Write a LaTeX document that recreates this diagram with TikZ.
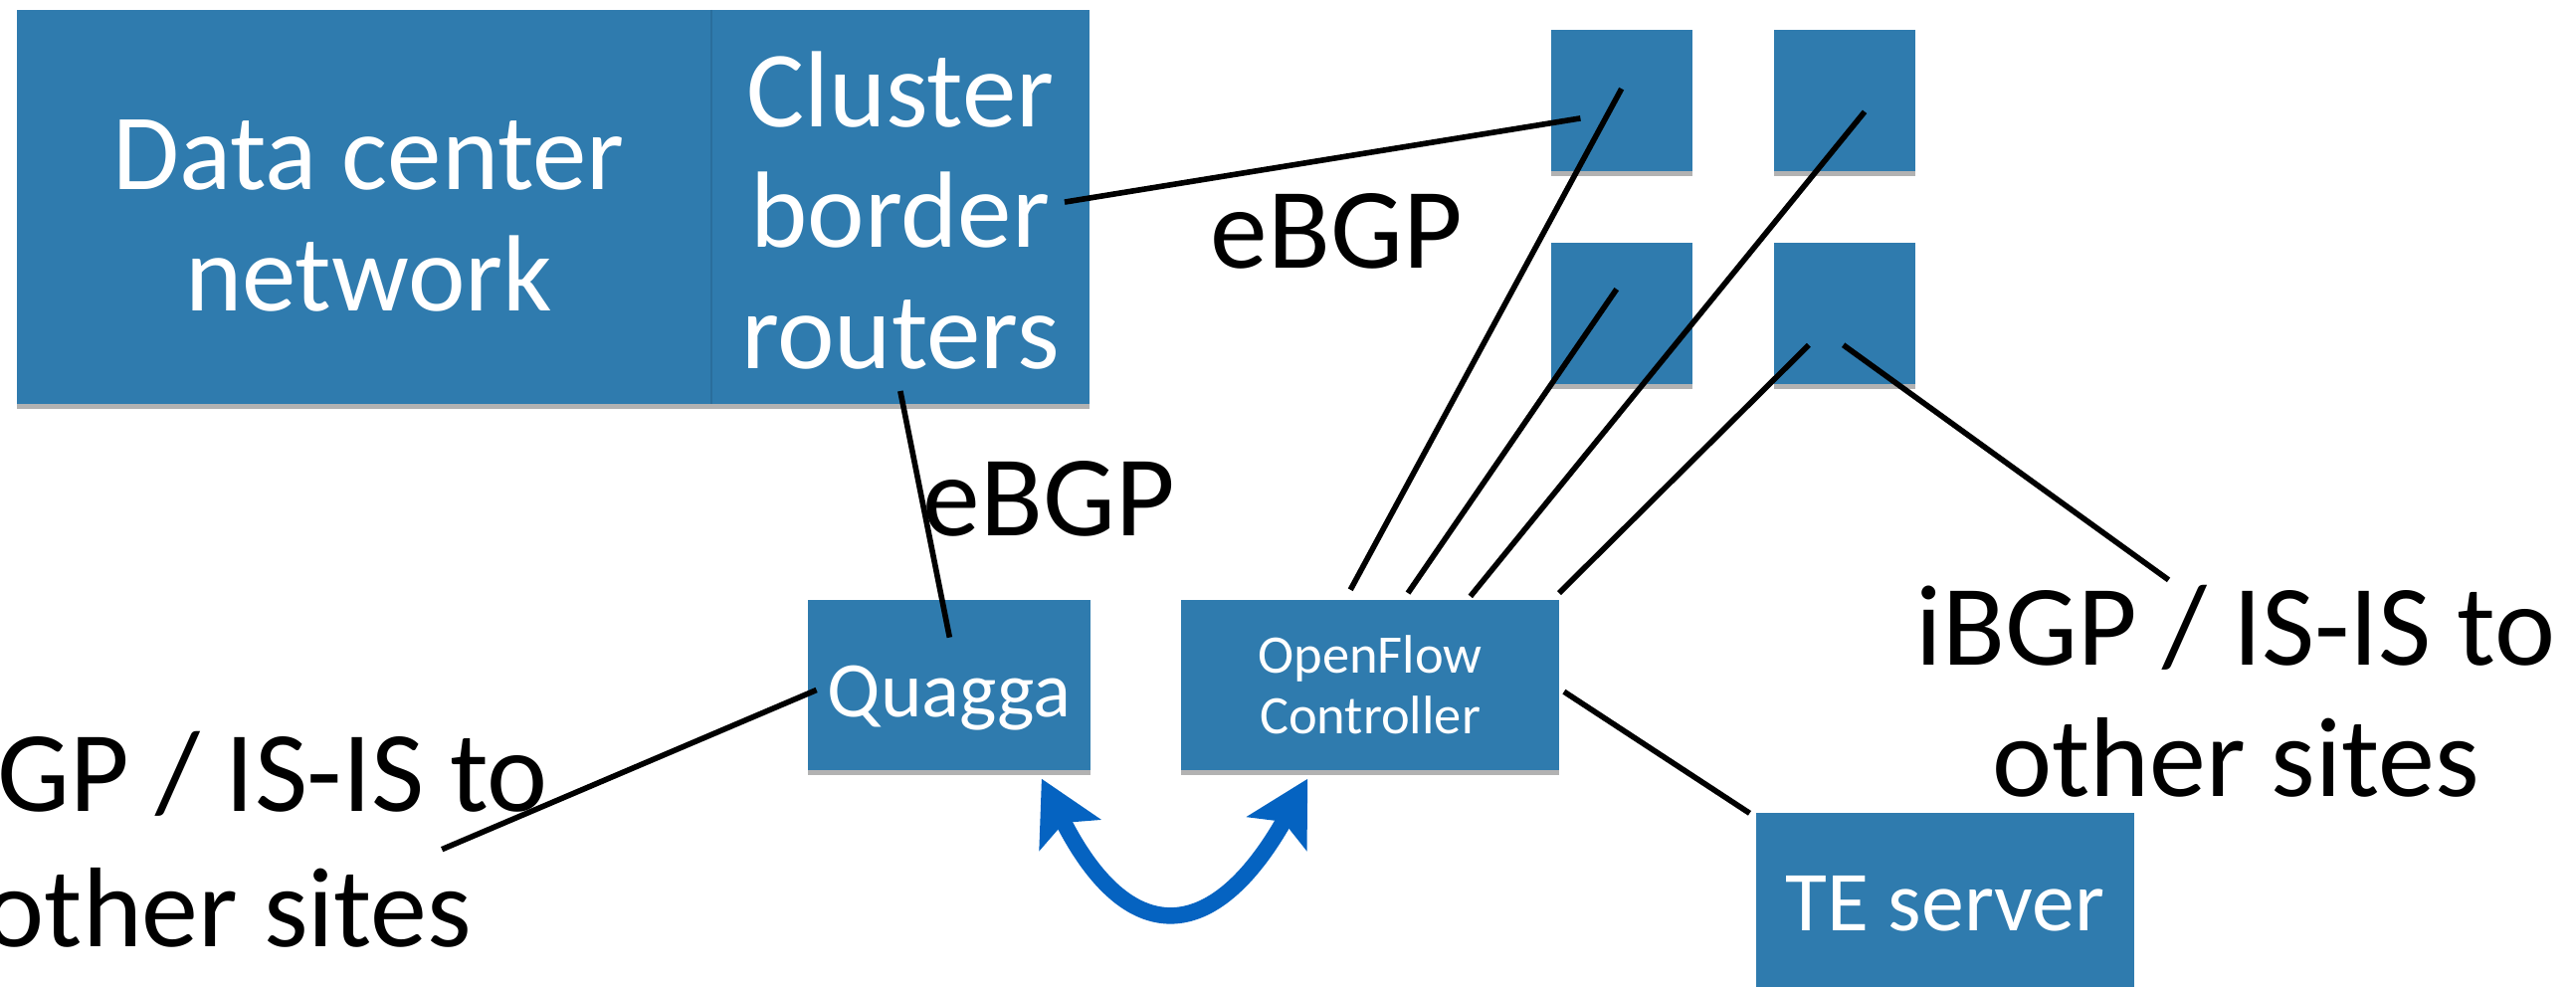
\documentclass[tikz,border=0pt]{standalone}
\usepackage{fontspec}
\setmainfont{Carlito}
\usetikzlibrary{shadows,arrows.meta}
\definecolor{boxblue}{HTML}{2F7BAE}
\definecolor{divblue}{HTML}{2A6E9C}
\definecolor{arrowblue}{HTML}{0563C1}
\tikzset{
  box/.style={fill=boxblue,text=white,inner sep=0pt,outer sep=0pt,align=center,anchor=north west,
    drop shadow={shadow xshift=0pt,shadow yshift=-3pt,opacity=.3,fill=black}},
  big/.style={font=\fontsize{66}{73.5}\selectfont},
  mid/.style={font=\fontsize{48}{48}\selectfont},
  small/.style={font=\fontsize{33}{37}\selectfont},
  lab/.style={text=black,inner sep=0pt,align=center,anchor=base,font=\fontsize{70}{79}\selectfont},
  labtwo/.style={lab,font=\fontsize{69}{79}\selectfont},
  link/.style={black,line width=3.4pt},
  twoway/.style={arrowblue,line width=10pt,{Stealth[length=38pt,width=41pt,inset=8pt]}-{Stealth[length=38pt,width=41pt,inset=8pt]}}
}
\begin{document}
\begin{tikzpicture}[x=1pt,y=-1pt]
\useasboundingbox (0,0) rectangle (1568,600.2);
\node[box,big,minimum width=423pt,minimum height=240pt] (dcn) at (10,6) {\rule{0pt}{53pt}\hspace{6pt}Data center\\\hspace{6pt}network};
\node[box,big,minimum width=230pt,minimum height=240pt] (cbr) at (433,6) {\rule{0pt}{50pt}Cluster\\border\\routers};
\draw[divblue,line width=1pt] (dcn.north east) -- (dcn.south east);
\node[box,minimum width=86pt,minimum height=86pt] (s1) at (944,18) {};
\node[box,minimum width=86pt,minimum height=86pt] (s2) at (1080,18) {};
\node[box,minimum width=86pt,minimum height=86pt] (s3) at (944,148) {};
\node[box,minimum width=86pt,minimum height=86pt] (s4) at (1080,148) {};
\node[box,mid,minimum width=172pt,minimum height=104pt] (qg) at (492,365) {\rule{0pt}{47pt}Quagga};
\node[box,small,minimum width=230pt,minimum height=104pt] (of) at (719,365) {OpenFlow\\Controller};
\node[box,font=\fontsize{52}{52}\selectfont,minimum width=230pt,minimum height=110pt] (te) at (1069,495) {TE server};
\node[lab] (e1) at (813.5,163) {eBGP};
\node[lab] (e2) at (638.5,326) {eBGP};
\node[lab] (rl1) at (1361,405) {iBGP / IS-IS to};
\node[labtwo] (rl2) at (1361,485) {other sites};
\node[lab] (ll1) at (139,494) {iBGP / IS-IS to};
\node[labtwo] (ll2) at (139,576) {other sites};
\coordinate (c1) at (648,123);
\coordinate (s1a) at (962,72);
\coordinate (c2) at (548,238);
\coordinate (qa) at (578,388);
\coordinate (qb) at (497,420);
\coordinate (lf) at (269,517);
\coordinate (o1) at (822,359);
\coordinate (s1b) at (987,54);
\coordinate (o2) at (857,361);
\coordinate (s3a) at (984,176);
\coordinate (o3) at (895,363);
\coordinate (s2a) at (1135,68);
\coordinate (o4) at (949,361);
\coordinate (s4a) at (1101,210);
\coordinate (s4b) at (1122,210);
\coordinate (rf) at (1320,353);
\coordinate (o5) at (952,421);
\coordinate (tea) at (1065,495);
\coordinate (ta) at (634,474);
\coordinate (tb) at (796,474);
\draw[link] (c1) -- (s1a);
\draw[link] (c2) -- (qa);
\draw[link] (qb) -- (lf);
\draw[link] (o1) -- (s1b);
\draw[link] (o2) -- (s3a);
\draw[link] (o3) -- (s2a);
\draw[link] (o4) -- (s4a);
\draw[link] (s4b) -- (rf);
\draw[link] (o5) -- (tea);
\draw[twoway] (ta) .. controls (686,577) and (738,577) .. (tb);
\end{tikzpicture}
\end{document}
